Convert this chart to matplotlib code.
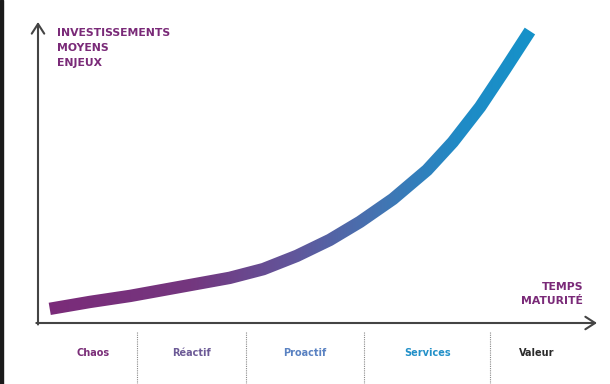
import numpy as np
import matplotlib
matplotlib.use("Agg")
import matplotlib.pyplot as plt
from matplotlib.colors import LinearSegmentedColormap
from matplotlib.patches import Rectangle, Polygon

# courbe (temps / maturite en %, investissement en %)
temps = [2.1, 9.3, 16.5, 25.4, 34.3, 40.3, 46.3, 52.2, 57.6, 63.5, 69.6, 74.2, 79.1, 83.5, 88.0]
invest = [4.7, 7.0, 9.0, 12.0, 15.0, 17.9, 22.3, 27.6, 33.6, 41.2, 50.8, 60.1, 71.8, 84.1, 97.0]

phases = ["Chaos", "Réactif", "Proactif", "Services", "Valeur"]
phase_colors = ["#7a2d78", "#6c5a96", "#5a82c2", "#2290c8", "#2b2b2b"]
limites = [17.7, 37.2, 58.3, 80.9]

purple = "#7a2a78"
axis_col = "#444444"
FONT = "DejaVu Sans"

fig = plt.figure(figsize=(6.1, 3.84), dpi=100)
fig.patches.append(Rectangle((0, 0), 3 / 610, 1, transform=fig.transFigure,
                             color="#1a1a1a", zorder=10))
ax = fig.add_axes([38 / 610, 61 / 384, 559 / 610, 301 / 384])
ax.set_xlim(0, 100)
ax.set_ylim(0, 100)
ax.axis("off")

# fleches des axes
arrow = dict(arrowstyle="->,head_length=0.7,head_width=0.45", color=axis_col, lw=1.5,
             shrinkA=0, shrinkB=0)
ax.annotate("", xy=(100, 0), xytext=(-0.3, 0), arrowprops=arrow, annotation_clip=False)
ax.annotate("", xy=(0, 100), xytext=(0, -0.5), arrowprops=arrow, annotation_clip=False)


def stroke_outline(xs, ys, half_width):
    # contour d'un trait epais (en pixels) autour de la polyligne
    p = ax.transData.transform(np.column_stack([xs, ys]))
    d = np.diff(p, axis=0)
    d /= np.linalg.norm(d, axis=1)[:, None]
    nseg = np.column_stack([-d[:, 1], d[:, 0]])
    nv = np.zeros_like(p)
    nv[0] = nseg[0]
    nv[-1] = nseg[-1]
    for i in range(1, len(p) - 1):
        m = nseg[i - 1] + nseg[i]
        m /= np.linalg.norm(m)
        nv[i] = m / np.dot(m, nseg[i])
    left = p + nv * half_width
    right = p - nv * half_width
    poly = np.vstack([left, right[::-1]])
    return ax.transData.inverted().transform(poly)


outline = stroke_outline(temps, invest, 6.2)
patch = Polygon(outline, closed=True, facecolor="none", edgecolor="none")
ax.add_patch(patch)

cmap = LinearSegmentedColormap.from_list(
    "grad", [(0.0, "#7b2b79"), (0.3, "#74377f"), (0.5, "#62559a"),
             (0.68, "#4474b2"), (0.85, "#1f8bc6"), (1.0, "#1592c9")])
grad = np.linspace(0, 1, 256)[None, :]
img = ax.imshow(grad, cmap=cmap, aspect="auto", extent=[temps[0] - 1, temps[-1] + 1, 0, 100],
                origin="lower", interpolation="bilinear")
img.set_clip_path(patch)
ax.set_xlim(0, 100)
ax.set_ylim(0, 100)

# textes des axes
ax.text(3.4, 98.0, "INVESTISSEMENTS\nMOYENS\nENJEUX", color=purple, fontsize=7.8,
        fontweight="bold", family=FONT, va="top", ha="left", linespacing=1.6)
ax.text(97.5, 5.5, "TEMPS\nMATURITÉ", color=purple, fontsize=7.8,
        fontweight="bold", family=FONT, va="bottom", ha="right", linespacing=1.6)

# phases
bords = [temps[0]] + limites + [97.5]
for b in limites:
    ax.plot([b, b], [-3, -21], ls=(0, (1, 1)), color="#8a8a8a", lw=0.8, clip_on=False)
for i, (nom, col) in enumerate(zip(phases, phase_colors)):
    xc = (bords[i] + bords[i + 1]) / 2
    ax.text(xc, -10, nom, color=col, fontsize=7, fontweight="bold", family=FONT,
            ha="center", va="center", clip_on=False)

fig.savefig("out.png", dpi=100)
